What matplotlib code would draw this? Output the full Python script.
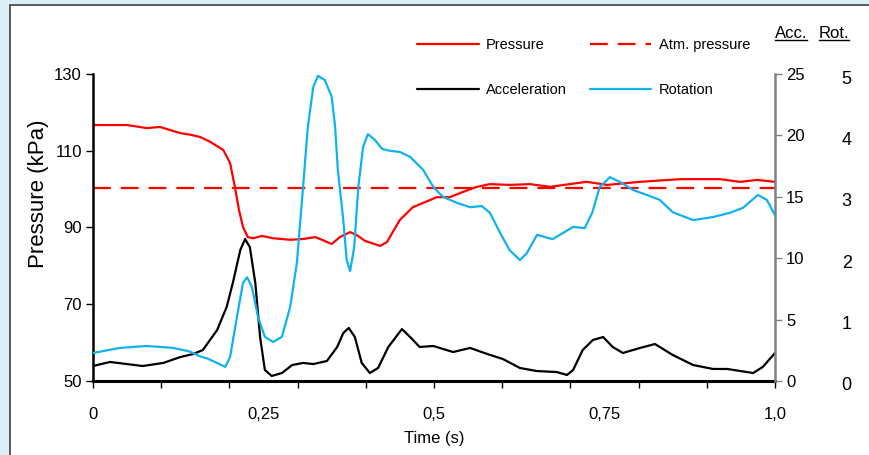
import matplotlib
matplotlib.use("Agg")
import matplotlib.pyplot as plt
from matplotlib.patches import Rectangle
from matplotlib.lines import Line2D
from matplotlib.transforms import ScaledTranslation

plt.rcParams["font.family"] = ["Liberation Sans", "DejaVu Sans"]

# pressure (kPa)
t_press = [0.000, 0.050, 0.079, 0.098, 0.128, 0.142, 0.157, 0.172, 0.191, 0.201,
           0.208, 0.214, 0.220, 0.227, 0.235, 0.248, 0.264, 0.289, 0.308, 0.326,
           0.337, 0.350, 0.362, 0.377, 0.387, 0.399, 0.421, 0.431, 0.450, 0.469,
           0.484, 0.504, 0.523, 0.543, 0.563, 0.582, 0.611, 0.641, 0.670, 0.699,
           0.724, 0.754, 0.802, 0.861, 0.919, 0.949, 0.974, 1.000]
pressure = [116.7, 116.7, 115.9, 116.2, 114.6, 114.2, 113.6, 112.3, 110.2, 106.8,
            100.6, 94.6, 90.1, 87.5, 87.2, 87.8, 87.2, 86.8, 87.0, 87.5,
            86.7, 85.7, 87.5, 88.8, 88.0, 86.5, 85.2, 86.2, 92.0, 95.3,
            96.4, 97.9, 97.9, 99.3, 100.6, 101.3, 101.1, 101.3, 100.6, 101.3,
            101.9, 101.1, 101.9, 102.6, 102.6, 101.9, 102.4, 101.9]
atm_pressure = 100.4

# acceleration
t_acc = [0.000, 0.025, 0.073, 0.103, 0.128, 0.147, 0.161, 0.182, 0.196, 0.205,
         0.216, 0.223, 0.230, 0.238, 0.245, 0.252, 0.262, 0.277, 0.292, 0.308,
         0.323, 0.343, 0.358, 0.367, 0.375, 0.384, 0.394, 0.406, 0.418, 0.433,
         0.453, 0.465, 0.479, 0.499, 0.528, 0.553, 0.578, 0.601, 0.626, 0.651,
         0.680, 0.695, 0.704, 0.718, 0.733, 0.748, 0.762, 0.777, 0.802, 0.824,
         0.850, 0.880, 0.909, 0.930, 0.968, 0.982, 1.000]
acceleration = [1.22, 1.55, 1.22, 1.47, 1.95, 2.20, 2.52, 4.15, 6.03, 7.98,
                10.67, 11.56, 10.9, 7.98, 3.58, 0.90, 0.41, 0.65, 1.30, 1.47,
                1.38, 1.63, 2.77, 3.91, 4.32, 3.58, 1.47, 0.65, 1.06, 2.77,
                4.23, 3.58, 2.77, 2.85, 2.36, 2.69, 2.20, 1.79, 1.06, 0.81,
                0.73, 0.49, 0.90, 2.52, 3.34, 3.58, 2.77, 2.28, 2.69, 3.01,
                2.12, 1.30, 0.98, 0.98, 0.65, 1.14, 2.28]

# rotation
t_rot = [0.000, 0.040, 0.079, 0.117, 0.142, 0.157, 0.167, 0.194, 0.201, 0.211,
         0.220, 0.226, 0.233, 0.242, 0.252, 0.264, 0.277, 0.289, 0.299, 0.308,
         0.315, 0.323, 0.330, 0.340, 0.350, 0.355, 0.359, 0.367, 0.372, 0.377,
         0.383, 0.389, 0.396, 0.403, 0.413, 0.424, 0.435, 0.450, 0.465, 0.484,
         0.499, 0.513, 0.534, 0.553, 0.570, 0.582, 0.597, 0.611, 0.626, 0.636,
         0.651, 0.674, 0.704, 0.721, 0.732, 0.743, 0.758, 0.773, 0.792, 0.812,
         0.831, 0.850, 0.880, 0.909, 0.934, 0.953, 0.975, 0.988, 1.000]
rotation = [0.456, 0.54, 0.57, 0.54, 0.48, 0.40, 0.37, 0.23, 0.39, 1.04,
            1.60, 1.69, 1.53, 1.04, 0.72, 0.635, 0.72, 1.20, 1.93, 3.16,
            4.14, 4.79, 4.97, 4.90, 4.63, 4.14, 3.44, 2.62, 1.97, 1.79,
            2.18, 3.16, 3.81, 4.02, 3.93, 3.78, 3.75, 3.73, 3.65, 3.44,
            3.16, 3.00, 2.90, 2.83, 2.85, 2.74, 2.41, 2.13, 1.97, 2.08,
            2.38, 2.31, 2.51, 2.49, 2.74, 3.16, 3.32, 3.24, 3.11, 3.03,
            2.95, 2.75, 2.62, 2.67, 2.74, 2.82, 3.03, 2.95, 2.70]

time_labels = ["0", "0,25", "0,5", "0,75", "1,0"]
time_label_pos = [0, 0.25, 0.5, 0.75, 1.0]

fig = plt.figure(figsize=(8.7, 4.55), dpi=100, facecolor="#DAEEF5")
fig.add_artist(Rectangle((10 / 870, -0.1), 1.2, 1.1 - 5 / 455,
                         transform=fig.transFigure, facecolor="white",
                         edgecolor="#404040", linewidth=1.2, zorder=-1))

ax = fig.add_axes([93 / 870, 1 - 381 / 455, 682 / 870, 307 / 455])
ax.patch.set_visible(False)
ax_acc = ax.twinx()
ax_rot = ax.twinx()

style = dict(lw=1.6, solid_joinstyle="round", solid_capstyle="round")
l_press, = ax.plot(t_press, pressure, color="#FF0000", label="Pressure", **style)
l_atm = ax.axhline(atm_pressure, color="#FF0000", lw=1.6, dashes=(8, 4.5),
                   label="Atm. pressure")
l_acc, = ax_acc.plot(t_acc, acceleration, color="black", label="Acceleration", **style)
l_rot, = ax_rot.plot(t_rot, rotation, color="#10B2EE", label="Rotation", **style)

ax.set_xlim(0, 1)
ax.set_ylim(50, 130)
ax.set_yticks([50, 70, 90, 110, 130])
ax.xaxis.remove_overlapping_locs = False
ax.set_xticks([i / 10 for i in range(11)], labels=[""] * 11)
ax.set_xticks(time_label_pos, labels=time_labels, minor=True)
ax.tick_params(axis="x", which="major", direction="out", length=5, width=1)
ax.tick_params(axis="x", which="minor", length=0, pad=19, labelsize=12)
ax.tick_params(axis="y", direction="out", length=5, width=1, labelsize=12, pad=3)
ax.set_xlabel("Time (s)", fontsize=12, labelpad=6)
ax.set_ylabel("Pressure (kPa)", fontsize=16)
ax.yaxis.set_label_coords(-0.064, 0.61)
for s in ["top", "right"]:
    ax.spines[s].set_visible(False)
ax.spines["left"].set_linewidth(1.8)
ax.spines["bottom"].set_linewidth(2.2)

ax_acc.set_ylim(0, 25)
ax_acc.set_yticks([0, 5, 10, 15, 20, 25])
for s in ["top", "left", "bottom"]:
    ax_acc.spines[s].set_visible(False)
ax_acc.spines["right"].set_color("#808080")
ax_acc.spines["right"].set_linewidth(1.8)
ax_acc.tick_params(axis="y", direction="out", length=5, width=1, color="#808080",
                   labelsize=12, pad=3)

ax_rot.set_ylim(0, 5)
ax_rot.set_yticks([0, 1, 2, 3, 4, 5])
for s in ax_rot.spines.values():
    s.set_visible(False)
ax_rot.spines["right"].set_position(("outward", 48))
ax_rot.tick_params(axis="y", length=0, labelsize=13, pad=0)
shift = ScaledTranslation(0, -3 / 100, fig.dpi_scale_trans)
for lab in ax_rot.get_yticklabels():
    lab.set_transform(lab.get_transform() + shift)

leg = fig.legend(handles=[l_press, l_acc, l_atm, l_rot], ncol=2, frameon=False,
                 loc="center", bbox_to_anchor=(0.671, 0.851), fontsize=10.5,
                 handlelength=4.2, handletextpad=0.5, columnspacing=1.6,
                 labelspacing=2.15)

h_acc = fig.text(791 / 870, 1 - 33 / 455, "Acc.", ha="center", va="center", fontsize=12)
h_rot = fig.text(834 / 870, 1 - 33 / 455, "Rot.", ha="center", va="center", fontsize=12)
fig.canvas.draw()
r = fig.canvas.get_renderer()
for h in (h_acc, h_rot):
    bb = h.get_window_extent(r).transformed(fig.transFigure.inverted())
    fig.add_artist(Line2D([bb.x0, bb.x1], [bb.y0 + 0.002, bb.y0 + 0.002],
                          transform=fig.transFigure, color="black", lw=1))

fig.savefig("out.png", dpi=100, facecolor=fig.get_facecolor())
